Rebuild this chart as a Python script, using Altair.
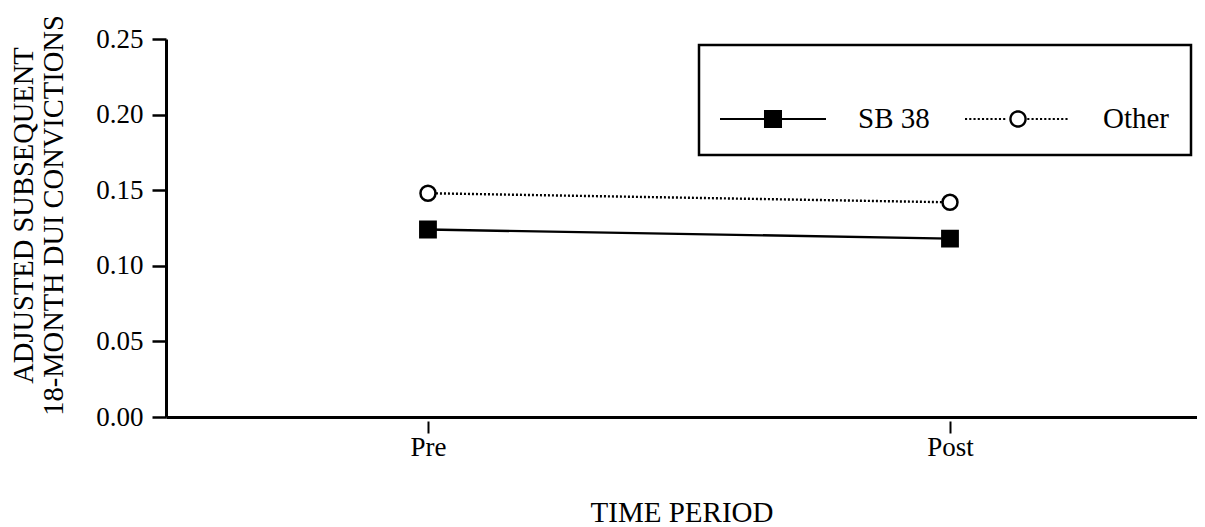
import math
import altair as alt
import pandas as pd

# ---- data ----
periods = ["Pre", "Post"]
groups = ["SB 38", "Other"]
sb38_values = [0.124, 0.118]
other_values = [0.148, 0.142]
y_tick_values = [0.00, 0.05, 0.10, 0.15, 0.20, 0.25]

rows = []
for g, vals in zip(groups, [sb38_values, other_values]):
    for p, v in zip(periods, vals):
        rows.append({"period": p, "group": g, "value": v})
df = pd.DataFrame(rows)

FONT = "Liberation Serif"

# ---- legend symbol glyphs (line + marker), drawn as filled regions ----
HW = 0.02  # half line thickness in symbol units


def rect(x0, y0, x1, y1):
    return f"M{x0:.4f},{y0:.4f}L{x1:.4f},{y0:.4f}L{x1:.4f},{y1:.4f}L{x0:.4f},{y1:.4f}Z"


def dots(x0, x1, period=0.08, dash=0.04):
    parts = []
    x = x0
    while x + dash <= x1 + 1e-9:
        parts.append(rect(x, -HW, x + dash, HW))
        x += period
    return "".join(parts)


def circle(r, n=40, reverse=False):
    ks = range(n) if not reverse else range(n, 0, -1)
    pts = [(r * math.cos(2 * math.pi * k / n), r * math.sin(2 * math.pi * k / n)) for k in ks]
    s = f"M{pts[0][0]:.4f},{pts[0][1]:.4f}"
    for x, y in pts[1:]:
        s += f"L{x:.4f},{y:.4f}"
    return s + "Z"


sq = 0.17
path_sb = rect(-1, -HW, 1, HW) + rect(-sq, -sq, sq, sq)
r_out, r_in = 0.165, 0.12
path_other = (dots(-1, -r_out) + dots(r_out + 0.01, 1)
              + circle(r_out) + circle(r_in, reverse=True))

x_scale = alt.Scale(domain=periods, padding=0.4875, align=0.5147)

x_axis_domain = alt.Axis(orient="bottom", title=None, labels=False, ticks=False,
                         domain=True, domainColor="black", domainWidth=3, grid=False)

x_axis_ticks = alt.Axis(
    orient="bottom", title="TIME PERIOD", domain=False, offset=4, labelAngle=0,
    tickColor="black", tickWidth=2, tickSize=12, labelPadding=22,
    labelBaseline="alphabetic", labelFont=FONT, labelFontSize=27, labelColor="black",
    titleFont=FONT, titleFontSize=29, titleFontWeight="normal", titleColor="black",
    titleBaseline="alphabetic", titleY=100, grid=False,
)

y_enc = alt.Y(
    "value:Q",
    scale=alt.Scale(domain=[0, 0.25], nice=False, zero=True),
    axis=alt.Axis(
        title=["ADJUSTED SUBSEQUENT", "18-MONTH DUI CONVICTIONS"],
        values=y_tick_values, format=".2f", domainColor="black", domainWidth=3,
        tickColor="black", tickWidth=2.5, tickSize=14, labelPadding=9,
        labelFont=FONT, labelFontSize=27, labelColor="black",
        titleFont=FONT, titleFontSize=28.5, titleFontWeight="normal",
        titleColor="black", titleLineHeight=30, titleBaseline="alphabetic",
        titleX=-134, titleY=176, grid=False,
    ),
)

solid_line = (
    alt.Chart(df)
    .transform_filter(alt.datum.group == groups[0])
    .mark_line(color="black", strokeWidth=2.4)
    .encode(x=alt.X("period:N", sort=periods, scale=x_scale, axis=x_axis_domain), y=y_enc)
)

dotted_line = (
    alt.Chart(df)
    .transform_filter(alt.datum.group == groups[1])
    .mark_line(color="black", strokeWidth=2.4, strokeDash=[2, 2])
    .encode(x=alt.X("period:N", sort=periods, scale=x_scale, axis=None), y=y_enc)
)

squares = (
    alt.Chart(df)
    .transform_filter(alt.datum.group == groups[0])
    .mark_point(shape="square", filled=True, fill="black", stroke="black",
                strokeWidth=2, size=250, opacity=1)
    .encode(x=alt.X("period:N", sort=periods, scale=x_scale, axis=x_axis_ticks), y=y_enc)
)

circles = (
    alt.Chart(df)
    .transform_filter(alt.datum.group == groups[1])
    .mark_point(shape="circle", filled=True, fill="white", stroke="black",
                strokeWidth=2.5, size=225, opacity=1)
    .encode(x=alt.X("period:N", sort=periods, scale=x_scale, axis=None), y=y_enc)
)

legend = alt.Legend(
    title=None,
    orient="top-right",
    offset=6,
    direction="horizontal",
    strokeColor="black",
    padding=21,
    labelFont=FONT,
    labelFontSize=29,
    labelColor="black",
    labelOffset=32,
    columnPadding=35,
    symbolSize=11236,
    symbolFillColor="black",
    symbolStrokeColor="black",
    symbolStrokeWidth=0,
)

# invisible layer (size 0) that only carries the legend
legend_layer = (
    alt.Chart(df)
    .mark_point(filled=True, fill="black", strokeWidth=0, size=0, opacity=1)
    .encode(
        x=alt.X("period:N", sort=periods, scale=x_scale, axis=None),
        y=y_enc,
        shape=alt.Shape("group:N",
                        scale=alt.Scale(domain=groups, range=[path_sb, path_other]),
                        legend=legend),
    )
)

chart = (
    alt.layer(solid_line, dotted_line, squares, circles, legend_layer)
    .resolve_axis(x="independent")
    .properties(
        width=1031,
        height=378,
        padding={"left": 158, "top": 31, "right": 0, "bottom": 110},
        autosize=alt.AutoSizeParams(type="none"),
        background="white",
    )
    .configure_view(stroke=None)
    .configure_legend(strokeWidth=2.5)
)

chart.save("out.html", embed_options={"renderer": "svg", "actions": False})
